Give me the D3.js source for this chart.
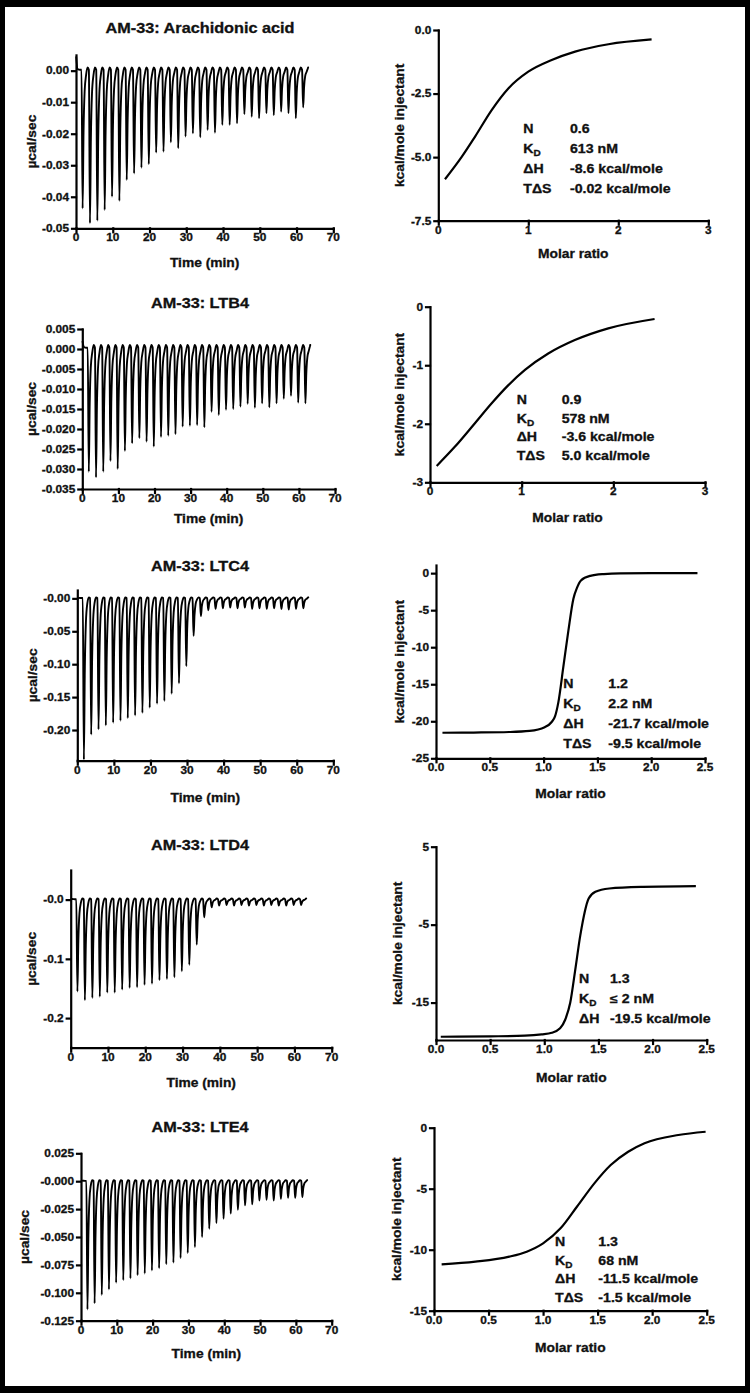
<!DOCTYPE html>
<html><head><meta charset="utf-8">
<script src="https://cdn.jsdelivr.net/npm/d3@7"></script>
<style>body{margin:0;background:#000}svg{display:block}</style>
</head><body>
<script>
// ---------------- DATA ----------------
const leftTitles = ["AM-33: Arachidonic acid", "AM-33: LTB4", "AM-33: LTC4", "AM-33: LTD4", "AM-33: LTE4"];
const injectionTimes = [1.5, 3.5, 5.5, 7.5, 9.5, 11.5, 13.5, 15.5, 17.5, 19.5, 21.5, 23.5, 25.5, 27.5, 29.5, 31.5,
  33.5, 35.5, 37.5, 39.5, 41.5, 43.5, 45.5, 47.5, 49.5, 51.5, 53.5, 55.5, 57.5, 59.5, 61.5];
const runEndTime = 63;
// injection peak heights (µcal/sec)
const aaPeaks = [-0.0437, -0.0484, -0.0476, -0.0442, -0.0400, -0.0413, -0.0347, -0.0326, -0.0308, -0.0297, -0.0260,
  -0.0257, -0.0227, -0.0246, -0.0209, -0.0199, -0.0211, -0.0188, -0.0197, -0.0172, -0.0172, -0.0167, -0.0138,
  -0.0146, -0.0151, -0.0135, -0.0141, -0.0130, -0.0135, -0.0151, -0.0116];
const ltb4Peaks = [-0.0307, -0.0321, -0.0307, -0.0280, -0.0300, -0.0255, -0.0236, -0.0223, -0.0232, -0.0244, -0.0220,
  -0.0217, -0.0213, -0.0194, -0.0192, -0.0190, -0.0196, -0.0157, -0.0165, -0.0152, -0.0150, -0.0144, -0.0137,
  -0.0147, -0.0136, -0.0146, -0.0136, -0.0124, -0.0117, -0.0134, -0.0136];
const ltc4Peaks = [-0.245, -0.207, -0.199, -0.193, -0.189, -0.186, -0.182, -0.178, -0.174, -0.166, -0.160, -0.156,
  -0.145, -0.129, -0.103, -0.057, -0.027, -0.018, -0.016, -0.015, -0.014, -0.015, -0.014, -0.016, -0.015, -0.016,
  -0.015, -0.016, -0.017, -0.016, -0.015];
const ltd4Peaks = [-0.155, -0.170, -0.166, -0.164, -0.157, -0.157, -0.152, -0.149, -0.148, -0.144, -0.142, -0.136,
  -0.134, -0.131, -0.121, -0.110, -0.076, -0.030, -0.013, -0.010, -0.009, -0.010, -0.009, -0.010, -0.009, -0.010,
  -0.009, -0.010, -0.010, -0.009, -0.009];
const lte4Peaks = [-0.115, -0.1095, -0.102, -0.097, -0.091, -0.0887, -0.0872, -0.0842, -0.0827, -0.080, -0.078,
  -0.0744, -0.073, -0.0688, -0.0643, -0.059, -0.050, -0.0426, -0.0375, -0.0336, -0.029, -0.0256, -0.0217, -0.0208,
  -0.0173, -0.0167, -0.0173, -0.0158, -0.0149, -0.0149, -0.0143];
// baseline level reached between injections and signal at the start of each run
const peakTops = [0.001, 0.001, 0.0015, 0.002, 0.001];
const runStart = [0.0045, 0.002, 0.0, 0.0, 0.0];
const thermoPeaks = [aaPeaks, ltb4Peaks, ltc4Peaks, ltd4Peaks, lte4Peaks];
const thermoYDomains = [[-0.05, 0.005], [-0.035, 0.005], [-0.2466, 0.0127], [-0.25, 0.05], [-0.125, 0.025]];
const timeTicks = [0, 10, 20, 30, 40, 50, 60, 70];
const thermoYTicks = [
  [0, -0.01, -0.02, -0.03, -0.04, -0.05],
  [0.005, 0, -0.005, -0.010, -0.015, -0.020, -0.025, -0.030, -0.035],
  [0, -0.05, -0.10, -0.15, -0.20],
  [0, -0.1, -0.2],
  [0.025, 0, -0.025, -0.050, -0.075, -0.100, -0.125]];
const thermoYTickLabels = [
  ["0.00", "-0.01", "-0.02", "-0.03", "-0.04", "-0.05"],
  ["0.005", "0.000", "-0.005", "-0.010", "-0.015", "-0.020", "-0.025", "-0.030", "-0.035"],
  ["-0.00", "-0.05", "-0.10", "-0.15", "-0.20"],
  ["-0.0", "-0.1", "-0.2"],
  ["0.025", "-0.000", "-0.025", "-0.050", "-0.075", "-0.100", "-0.125"]];

// fitted binding isotherms (molar ratio vs kcal/mole injectant)
const aaFitX = [0.074, 0.26, 0.407, 0.593, 0.778, 1.0, 1.26, 1.52, 1.89, 2.37];
const aaFitY = [-5.87, -4.99, -4.2, -3.15, -2.3, -1.64, -1.18, -0.85, -0.56, -0.37];
const ltb4FitX = [0.073, 0.273, 0.49, 0.673, 0.855, 1.036, 1.29, 1.58, 1.945, 2.45];
const ltb4FitY = [-2.72, -2.39, -1.99, -1.65, -1.34, -1.08, -0.80, -0.57, -0.37, -0.21];
const ltc4FitX = [0.06, 0.35, 0.68, 0.87, 1.01, 1.075, 1.106, 1.137, 1.184, 1.23, 1.277, 1.31, 1.347, 1.434, 1.56, 1.715, 2.0, 2.43];
const ltc4FitY = [-21.55, -21.52, -21.45, -21.3, -20.8, -20.1, -19.35, -17.45, -12.6, -7.8, -3.46, -2.0, -0.99, -0.36, -0.12, -0.03, -0.01, 0];
const ltd4FitX = [0.044, 0.5, 0.82, 0.976, 1.069, 1.146, 1.193, 1.24, 1.286, 1.333, 1.41, 1.472, 1.6, 1.91, 2.40];
const ltd4FitY = [-19.38, -19.33, -19.25, -19.08, -18.87, -18.3, -17.2, -15.0, -10.8, -6.35, -1.65, -0.79, -0.36, -0.15, -0.06];
const lte4FitX = [0.07, 0.38, 0.69, 0.85, 1.0, 1.16, 1.31, 1.47, 1.62, 1.78, 1.93, 2.24, 2.49];
const lte4FitY = [-11.2, -10.98, -10.57, -10.16, -9.48, -8.25, -6.48, -4.56, -3.06, -1.97, -1.28, -0.6, -0.33];
const fitXs = [aaFitX, ltb4FitX, ltc4FitX, ltd4FitX, lte4FitX];
const fitYs = [aaFitY, ltb4FitY, ltc4FitY, ltd4FitY, lte4FitY];
const fitXDomains = [[0, 3], [0, 3], [0, 2.5], [0, 2.5], [0, 2.5]];
const fitYDomains = [[-7.5, 0], [-3, 0], [-25, 1.1], [-19.8, 5], [-15, 0]];
const fitXTicks = [[0, 1, 2, 3], [0, 1, 2, 3], [0, 0.5, 1, 1.5, 2, 2.5], [0, 0.5, 1, 1.5, 2, 2.5], [0, 0.5, 1, 1.5, 2, 2.5]];
const fitXTickLabels = [["0", "1", "2", "3"], ["0", "1", "2", "3"],
  ["0.0", "0.5", "1.0", "1.5", "2.0", "2.5"], ["0.0", "0.5", "1.0", "1.5", "2.0", "2.5"], ["0.0", "0.5", "1.0", "1.5", "2.0", "2.5"]];
const fitYTicks = [[0, -2.5, -5, -7.5], [0, -1, -2, -3], [0, -5, -10, -15, -20, -25], [5, -5, -15], [0, -5, -10, -15]];
const fitYTickLabels = [["0.0", "-2.5", "-5.0", "-7.5"], ["0", "-1", "-2", "-3"], ["0", "-5", "-10", "-15", "-20", "-25"],
  ["5", "-5", "-15"], ["0", "-5", "-10", "-15"]];
// thermodynamic parameters
const paramN = ["0.6", "0.9", "1.2", "1.3", "1.3"];
const paramKD = ["613 nM", "578 nM", "2.2 nM", "\u2264 2 nM", "68 nM"];
const paramDH = ["-8.6 kcal/mole", "-3.6 kcal/mole", "-21.7 kcal/mole", "-19.5 kcal/mole", "-11.5 kcal/mole"];
const paramTDS = ["-0.02 kcal/mole", "5.0 kcal/mole", "-9.5 kcal/mole", null, "-1.5 kcal/mole"];

// ---------------- LAYOUT ----------------
const W = 750, H = 1393;
const FONT = "'Liberation Sans', Arial, Helvetica, sans-serif";
const leftLayout = [
  {x0: 76, x1: 333.3, yBot: 228.3, yTop: 54.9, titleY: 33.3, xTitleY: 266.7, yTitleX: 36},
  {x0: 82.3, x1: 335, yBot: 489, yTop: 329, titleY: 308.3, xTitleY: 523.3, yTitleX: 36},
  {x0: 77.3, x1: 333.3, yBot: 760.7, yTop: 590, titleY: 570.7, xTitleY: 801.7, yTitleX: 37},
  {x0: 70.7, x1: 331.7, yBot: 1047.7, yTop: 870, titleY: 850, xTitleY: 1086.7, yTitleX: 36},
  {x0: 81, x1: 331.7, yBot: 1320.7, yTop: 1153.3, titleY: 1131.7, xTitleY: 1358.3, yTitleX: 29}];
const rightLayout = [
  {x0: 438.3, x1: 708.3, yBot: 220.7, yTop: 30, yTitleX: 404, xTitleY: 258, labX: 523.3, valX: 570, textY: 133.3, dy: 20},
  {x0: 430, x1: 705, yBot: 482.3, yTop: 306.7, yTitleX: 404, xTitleY: 521.7, labX: 516.7, valX: 561.7, textY: 404, dy: 18.7},
  {x0: 436, x1: 705, yBot: 758.3, yTop: 565, yTitleX: 404, xTitleY: 798.3, labX: 563.3, valX: 608.3, textY: 688.3, dy: 20},
  {x0: 436, x1: 706.7, yBot: 1040, yTop: 846.7, yTitleX: 402, xTitleY: 1081.7, labX: 579, valX: 610, textY: 983.3, dy: 20},
  {x0: 434, x1: 706.7, yBot: 1310.7, yTop: 1127.7, yTitleX: 401, xTitleY: 1351.7, labX: 555, valX: 598.3, textY: 1246, dy: 18.6}];

const svg = d3.select("body").append("svg").attr("width", W).attr("height", H);
svg.append("rect").attr("width", W).attr("height", H).attr("fill", "#000");
svg.append("rect").attr("x", 5).attr("y", 7).attr("width", 740).attr("height", 1379).attr("fill", "#fff");

function txt(g, x, y, s, o) {
  o = Object.assign({size: 10.5, anchor: "middle", sx: 1.13, rot: 0}, o || {});
  return g.append("text")
    .attr("transform", `translate(${x},${y}) rotate(${o.rot}) scale(${o.sx},1)`)
    .attr("text-anchor", o.anchor).attr("font-family", FONT).attr("font-weight", "bold")
    .attr("font-size", o.size).attr("fill", "#111").attr("stroke", "#111").attr("stroke-width", 0.3)
    .text(s);
}

function drawAxes(g, x, y, xt, xl, yt, yl) {
  const ax = g.append("g").attr("transform", `translate(0,${y.range()[0]})`)
    .call(d3.axisBottom(x).tickValues(xt).tickFormat("").tickSize(4).tickSizeOuter(0));
  const ay = g.append("g").attr("transform", `translate(${x.range()[0]},0)`)
    .call(d3.axisLeft(y).tickValues(yt).tickFormat("").tickSize(4).tickSizeOuter(0));
  [ax, ay].forEach(a => {
    a.selectAll("path,line").attr("stroke", "#000").attr("stroke-width", 2.2).attr("stroke-linecap", "square");
  });
  xt.forEach((v, i) => txt(g, x(v), y.range()[0] + 13, xl[i]));
  yt.forEach((v, i) => txt(g, x.range()[0] - 7, y(v) + 3.8, yl[i], {anchor: "end"}));
}

// ---------------- LEFT: raw thermograms ----------------
thermoPeaks.forEach((peaks, p) => {
  const L = leftLayout[p];
  const g = svg.append("g");
  const x = d3.scaleLinear().domain([0, 70]).range([L.x0, L.x1]);
  const y = d3.scaleLinear().domain(thermoYDomains[p]).range([L.yBot, L.yTop]);
  const top = peakTops[p];
  const pts = [[0.05, runStart[p]], [0.45, top * 0.5], [1.1, top * 0.3]];
  injectionTimes.forEach((t, i) => {
    const d = peaks[i];
    pts.push([t, top * 0.3], [t + 0.3, d], [t + 0.55, d * 0.45], [t + 0.85, d * 0.15],
      [t + 1.25, d * 0.03], [t + 1.65, top]);
  });
  pts.push([runEndTime, top * 0.5]);
  const line = d3.line().x(d => x(d[0])).y(d => y(d[1])).curve(d3.curveMonotoneX);
  g.append("path").attr("d", line(pts)).attr("fill", "none").attr("stroke", "#000")
    .attr("stroke-width", 1.9).attr("stroke-linejoin", "round");
  drawAxes(g, x, y, timeTicks, timeTicks.map(String), thermoYTicks[p], thermoYTickLabels[p]);
  txt(g, 200, L.titleY, leftTitles[p], {size: 14, sx: 1.16});
  txt(g, (L.x0 + L.x1) / 2, L.xTitleY, "Time (min)", {size: 12, sx: 1.15});
  txt(g, L.yTitleX, (L.yBot + L.yTop) / 2, "\u00b5cal/sec", {size: 12, sx: 1.15, rot: -90});
});

// ---------------- RIGHT: binding isotherms ----------------
fitXs.forEach((fx, p) => {
  const R = rightLayout[p];
  const g = svg.append("g");
  const x = d3.scaleLinear().domain(fitXDomains[p]).range([R.x0, R.x1]);
  const y = d3.scaleLinear().domain(fitYDomains[p]).range([R.yBot, R.yTop]);
  const data = fx.map((v, i) => [v, fitYs[p][i]]);
  const line = d3.line().x(d => x(d[0])).y(d => y(d[1])).curve(d3.curveMonotoneX);
  g.append("path").attr("d", line(data)).attr("fill", "none").attr("stroke", "#000")
    .attr("stroke-width", 2.2).attr("stroke-linejoin", "round");
  drawAxes(g, x, y, fitXTicks[p], fitXTickLabels[p], fitYTicks[p], fitYTickLabels[p]);
  txt(g, (R.x0 + R.x1) / 2, R.xTitleY, "Molar ratio", {size: 12, sx: 1.15});
  txt(g, R.yTitleX, (R.yBot + R.yTop) / 2, "kcal/mole injectant", {size: 12, sx: 1.15, rot: -90});
  const rows = [["N", paramN[p]], ["K", paramKD[p]], ["\u0394H", paramDH[p]], ["T\u0394S", paramTDS[p]]]
    .filter(r => r[1] !== null);
  rows.forEach((r, i) => {
    const yy = R.textY + i * R.dy;
    const lab = txt(g, R.labX, yy, r[0], {size: 12, sx: 1.18, anchor: "start"});
    if (r[0] === "K") lab.append("tspan").attr("font-size", 8.5).attr("dy", 3).text("D");
    txt(g, R.valX, yy, r[1], {size: 12, sx: 1.18, anchor: "start"});
  });
});
</script>
</body></html>
